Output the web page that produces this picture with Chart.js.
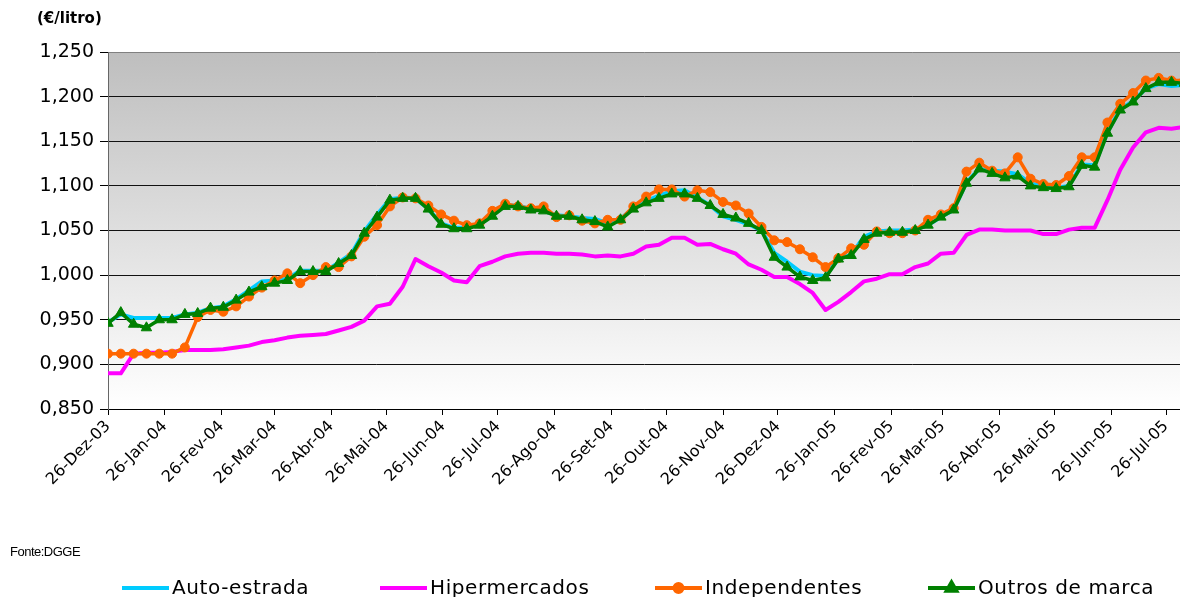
<!DOCTYPE html>
<html>
<head>
<meta charset="utf-8">
<script src="https://cdn.jsdelivr.net/npm/chart.js@4.4.0/dist/chart.umd.min.js"></script>
<style>
  html, body { margin: 0; padding: 0; background: #fff; }
  #wrap { position: relative; width: 1180px; height: 597px; overflow: hidden; }
  #unit { position: absolute; left: 37px; top: 9px; font: bold 15px "DejaVu Sans", sans-serif; color: #000; }
  #source { position: absolute; left: 10px; top: 544px; font: 13px "Liberation Sans", Arial, sans-serif; letter-spacing: -0.5px; color: #000; }
</style>
</head>
<body>
<div id="wrap">
  <canvas id="chart" width="1180" height="597"></canvas>
  <div id="unit">(€/litro)</div>
  <div id="source">Fonte:DGGE</div>
</div>
<script>
// weekly prices, first week = 26-Dez-03
const startDate = '2003-12-26';

const tickLabels = [
    '26-Dez-03', '26-Jan-04', '26-Fev-04', '26-Mar-04', '26-Abr-04', '26-Mai-04', '26-Jun-04',
    '26-Jul-04', '26-Ago-04', '26-Set-04', '26-Out-04', '26-Nov-04', '26-Dez-04', '26-Jan-05',
    '26-Fev-05', '26-Mar-05', '26-Abr-05', '26-Mai-05', '26-Jun-05', '26-Jul-05'
];

const autoEstrada = [
    0.947, 0.956, 0.952, 0.952, 0.952, 0.952, 0.956, 0.958, 0.963, 0.965,
    0.973, 0.983, 0.993, 0.994, 0.996, 1.005, 1.005, 1.005, 1.014, 1.024,
    1.049, 1.068, 1.085, 1.087, 1.086, 1.074, 1.058, 1.053, 1.053, 1.057,
    1.067, 1.078, 1.078, 1.074, 1.072, 1.067, 1.066, 1.064, 1.063, 1.058,
    1.063, 1.075, 1.083, 1.089, 1.094, 1.095, 1.087, 1.078, 1.066, 1.062,
    1.057, 1.050, 1.025, 1.015, 1.004, 1.000, 0.999, 1.018, 1.023, 1.043,
    1.049, 1.050, 1.050, 1.051, 1.056, 1.065, 1.073, 1.104, 1.119, 1.117,
    1.116, 1.113, 1.103, 1.099, 1.098, 1.100, 1.124, 1.123, 1.160, 1.186,
    1.195, 1.209, 1.214, 1.212, 1.213
];

const hipermercados = [
    0.890, 0.890, 0.912, 0.913, 0.913, 0.914, 0.916, 0.916, 0.916, 0.917,
    0.919, 0.921, 0.925, 0.927, 0.930, 0.932, 0.933, 0.934, 0.938, 0.942,
    0.949, 0.965, 0.968, 0.987, 1.018, 1.010, 1.003, 0.994, 0.992, 1.010,
    1.015, 1.021, 1.024, 1.025, 1.025, 1.024, 1.024, 1.023, 1.021, 1.022,
    1.021, 1.024, 1.032, 1.034, 1.042, 1.042, 1.034, 1.035, 1.029, 1.024,
    1.012, 1.006, 0.998, 0.998, 0.990, 0.980, 0.961, 0.970, 0.981, 0.993,
    0.996, 1.001, 1.001, 1.009, 1.013, 1.024, 1.025, 1.045, 1.051, 1.051,
    1.050, 1.050, 1.050, 1.046, 1.046, 1.051, 1.053, 1.053, 1.084, 1.118,
    1.143, 1.160, 1.165, 1.164, 1.166
];

const independentes = [
    0.912, 0.912, 0.912, 0.912, 0.912, 0.912, 0.919, 0.953, 0.961, 0.959,
    0.965, 0.976, 0.986, 0.994, 1.002, 0.991, 1.000, 1.009, 1.009, 1.021,
    1.043, 1.056, 1.077, 1.087, 1.086, 1.078, 1.068, 1.061, 1.056, 1.058,
    1.072, 1.080, 1.077, 1.075, 1.077, 1.065, 1.067, 1.061, 1.058, 1.062,
    1.062, 1.077, 1.088, 1.096, 1.096, 1.088, 1.095, 1.093, 1.082, 1.078,
    1.069, 1.054, 1.039, 1.037, 1.029, 1.020, 1.009, 1.019, 1.030, 1.034,
    1.049, 1.047, 1.047, 1.050, 1.062, 1.068, 1.075, 1.116, 1.126, 1.117,
    1.114, 1.132, 1.108, 1.102, 1.101, 1.111, 1.132, 1.132, 1.171, 1.192,
    1.204, 1.218, 1.221, 1.218, 1.218
];

const outrosMarca = [
    0.946, 0.958, 0.945, 0.941, 0.950, 0.950, 0.956, 0.957, 0.963, 0.964,
    0.972, 0.981, 0.987, 0.991, 0.994, 1.004, 1.004, 1.004, 1.013, 1.022,
    1.047, 1.065, 1.084, 1.086, 1.086, 1.074, 1.057, 1.052, 1.052, 1.056,
    1.066, 1.077, 1.077, 1.073, 1.072, 1.066, 1.066, 1.062, 1.060, 1.054,
    1.062, 1.074, 1.081, 1.086, 1.091, 1.091, 1.086, 1.078, 1.068, 1.064,
    1.058, 1.050, 1.020, 1.009, 0.998, 0.994, 0.997, 1.018, 1.022, 1.040,
    1.047, 1.048, 1.048, 1.050, 1.056, 1.065, 1.073, 1.103, 1.119, 1.114,
    1.109, 1.111, 1.100, 1.098, 1.097, 1.099, 1.123, 1.121, 1.159, 1.185,
    1.194, 1.209, 1.216, 1.216, 1.215
];

const COLORS = {
    auto: '#00CCFF',
    hiper: '#FF00FF',
    indep: '#FF6600',
    outros: '#008000'
};

const MONTHS = ['Jan', 'Fev', 'Mar', 'Abr', 'Mai', 'Jun', 'Jul', 'Ago', 'Set', 'Out', 'Nov', 'Dez'];
const DAY = 86400000;
const t0 = Date.parse(startDate + 'T00:00:00Z');

function labelToDay(label) {
    const [d, m, y] = label.split('-');
    const t = Date.UTC(2000 + Number(y), MONTHS.indexOf(m), Number(d));
    return Math.round((t - t0) / DAY);
}

const tickDays = tickLabels.map(labelToDay);
const toPoints = values => values.map((v, i) => ({ x: i * 7, y: v }));

// plot area: x 108..1180, last tick (26-Jul-05) sits at 1166
const xMax = tickDays[tickDays.length - 1] * (1180 - 108) / (1166 - 108);

const plotBackground = {
    id: 'plotBackground',
    beforeDraw(chart) {
        const { ctx, chartArea: a } = chart;
        const g = ctx.createLinearGradient(0, a.top, 0, a.bottom);
        g.addColorStop(0, '#BEBEBE');
        g.addColorStop(1, '#FFFFFF');
        ctx.save();
        ctx.fillStyle = g;
        ctx.fillRect(a.left, a.top, a.right - a.left, a.bottom - a.top);
        ctx.restore();
    }
};

const legendItems = [
    { text: 'Auto-estrada', color: COLORS.auto, marker: null, x: 122 },
    { text: 'Hipermercados', color: COLORS.hiper, marker: null, x: 380 },
    { text: 'Independentes', color: COLORS.indep, marker: 'circle', x: 655 },
    { text: 'Outros de marca', color: COLORS.outros, marker: 'triangle', x: 928 }
];

const lineLegend = {
    id: 'lineLegend',
    afterDraw(chart) {
        const ctx = chart.ctx;
        const y = 588;
        ctx.save();
        ctx.font = '20px "DejaVu Sans", sans-serif';
        ctx.letterSpacing = '0.6px';
        ctx.textBaseline = 'middle';
        ctx.textAlign = 'left';
        legendItems.forEach(item => {
            ctx.strokeStyle = item.color;
            ctx.lineWidth = 4;
            ctx.beginPath();
            ctx.moveTo(item.x, y);
            ctx.lineTo(item.x + 47, y);
            ctx.stroke();
            if (item.marker) {
                Chart.helpers.drawPoint(ctx, {
                    pointStyle: item.marker,
                    radius: item.marker === 'circle' ? 4 : 5.5,
                    rotation: 0,
                    borderWidth: 1
                }, item.x + 23.5, y);
                ctx.fillStyle = item.color;
                ctx.fill();
            }
            ctx.fillStyle = '#000';
            ctx.fillText(item.text, item.x + 50, y + 1);
        });
        ctx.restore();
    }
};

new Chart(document.getElementById('chart'), {
    type: 'line',
    data: {
        datasets: [
            {
                label: 'Auto-estrada',
                data: toPoints(autoEstrada),
                borderColor: COLORS.auto,
                backgroundColor: COLORS.auto,
                borderWidth: 4,
                pointRadius: 0,
                order: 4
            },
            {
                label: 'Hipermercados',
                data: toPoints(hipermercados),
                borderColor: COLORS.hiper,
                backgroundColor: COLORS.hiper,
                borderWidth: 4,
                pointRadius: 0,
                order: 3
            },
            {
                label: 'Independentes',
                data: toPoints(independentes),
                borderColor: COLORS.indep,
                backgroundColor: COLORS.indep,
                borderWidth: 3.5,
                pointStyle: 'circle',
                pointRadius: 4.5,
                pointBorderWidth: 1,
                order: 2
            },
            {
                label: 'Outros de marca',
                data: toPoints(outrosMarca),
                borderColor: COLORS.outros,
                backgroundColor: COLORS.outros,
                borderWidth: 3.5,
                pointStyle: 'triangle',
                pointRadius: 6,
                pointBorderWidth: 1,
                order: 1
            }
        ]
    },
    options: {
        responsive: false,
        animation: false,
        events: [],
        layout: { autoPadding: false, padding: { top: 52, right: 0, bottom: 0, left: 0 } },
        elements: { line: { tension: 0, borderJoinStyle: 'round' } },
        scales: {
            x: {
                type: 'linear',
                min: 0,
                max: xMax,
                afterBuildTicks(scale) {
                    scale.ticks = tickDays.map(v => ({ value: v }));
                },
                afterFit(scale) {
                    scale.height = 188;
                    scale.paddingLeft = 0;
                    scale.paddingRight = 0;
                },
                ticks: {
                    autoSkip: false,
                    minRotation: 45,
                    maxRotation: 45,
                    padding: 2,
                    color: '#000',
                    font: { family: '"DejaVu Sans", sans-serif', size: 16 },
                    callback: (value, index) => tickLabels[index]
                },
                grid: {
                    drawOnChartArea: false,
                    drawTicks: true,
                    tickLength: 6,
                    tickColor: '#000'
                },
                border: { display: true, color: '#000', width: 1 }
            },
            y: {
                min: 0.85,
                max: 1.25,
                afterBuildTicks(scale) {
                    const t = [];
                    for (let i = 0; i <= 8; i++) t.push({ value: 0.85 + i * 0.05 });
                    scale.ticks = t;
                },
                afterFit(scale) {
                    scale.width = 108;
                    scale.paddingTop = 0;
                    scale.paddingBottom = 0;
                },
                ticks: {
                    padding: 6,
                    color: '#000',
                    font: { family: '"DejaVu Sans", sans-serif', size: 19 },
                    callback: value => value.toFixed(3).replace('.', ',')
                },
                grid: {
                    color: ctx => (ctx.index === 8 ? '#808080' : '#111'),
                    lineWidth: 1,
                    drawTicks: true,
                    tickLength: 8,
                    tickColor: '#000'
                },
                border: { display: true, color: '#666', width: 1 }
            }
        },
        plugins: {
            legend: { display: false },
            tooltip: { enabled: false }
        }
    },
    plugins: [plotBackground, lineLegend]
});
</script>
</body>
</html>
